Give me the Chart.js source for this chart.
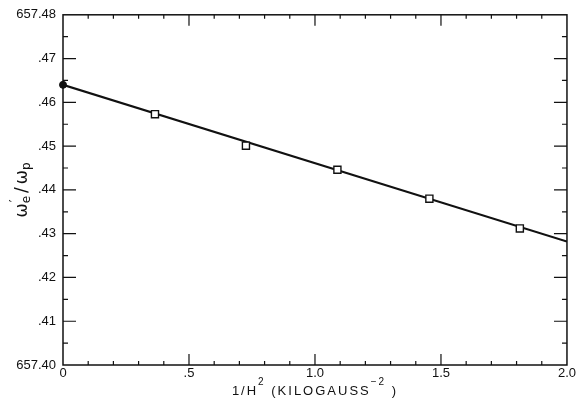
<!DOCTYPE html>
<html>
<head>
<meta charset="utf-8">
<script src="https://cdn.jsdelivr.net/npm/chart.js@4.4.1/dist/chart.umd.min.js"></script>
<style>
  html,body{margin:0;padding:0;background:#fff}
  #c{display:block}
</style>
</head>
<body>
<canvas id="c" width="577" height="406"></canvas>
<script>
// data
const fieldInvSq = [0.365, 0.726, 1.089, 1.454, 1.813];          // 1/H^2
const freqRatio  = [657.4573, 657.4501, 657.4446, 657.4380, 657.4312];
const interceptX = [0];
const interceptY = [657.4640];
const fitX = [0, 2.0];
const fitY = [657.4640, 657.4282];

// ticks
const xTickValues = [0, 0.5, 1.0, 1.5, 2.0];
const xTickLabels = ['0', '.5', '1.0', '1.5', '2.0'];
const yTickValues = [657.40, 657.41, 657.42, 657.43, 657.44, 657.45, 657.46, 657.47, 657.48];
const yTickLabels = ['657.40', '.41', '.42', '.43', '.44', '.45', '.46', '.47', '657.48'];

const INK = '#111';
const FONT = '"Liberation Sans", Arial, sans-serif';

const pts = (xs, ys) => xs.map((v, i) => ({x: v, y: ys[i]}));

// frame with inward ticks + axis titles
const frameTicks = {
  id: 'frameTicks',
  afterDraw(chart){
    const {ctx, chartArea: a, scales: {x, y}} = chart;
    ctx.save();
    ctx.strokeStyle = INK;
    ctx.lineWidth = 1.5;
    ctx.strokeRect(a.left, a.top, a.right - a.left, a.bottom - a.top);
    ctx.lineWidth = 1.2;
    ctx.beginPath();
    // x ticks every 0.1, long at 0.5
    for(let i = 1; i < 20; i++){
      const px = x.getPixelForValue(i / 10);
      const len = i % 5 === 0 ? 11 : 4;
      ctx.moveTo(px, a.bottom); ctx.lineTo(px, a.bottom - len);
      ctx.moveTo(px, a.top); ctx.lineTo(px, a.top + len);
    }
    // y ticks every 0.005, long at 0.01
    for(let i = 1; i < 16; i++){
      const py = y.getPixelForValue(657.40 + i * 0.005);
      const len = i % 2 === 0 ? 13 : 5;
      ctx.moveTo(a.left, py); ctx.lineTo(a.left + len, py);
      ctx.moveTo(a.right, py); ctx.lineTo(a.right - len, py);
    }
    ctx.stroke();

    ctx.fillStyle = INK;
    ctx.textBaseline = 'alphabetic';

    // y title: omega'_e / omega_p (rotated)
    ctx.save();
    ctx.translate(27, (a.top + a.bottom) / 2);
    ctx.rotate(-Math.PI / 2);
    const big = '17px "DejaVu Sans", sans-serif', small = '12px "DejaVu Sans", sans-serif';
    ctx.font = big; const wOm = ctx.measureText('ω').width; const wSl = ctx.measureText('/').width;
    ctx.font = small; const wE = ctx.measureText('e').width; const wP = ctx.measureText('p').width;
    const total = wOm + wE + 3 + wSl + 3 + wOm + wP;
    let cx = -total / 2;
    ctx.font = big; ctx.fillText('ω', cx, 0); cx += wOm;
    ctx.font = small; ctx.fillText('′', cx + 1, -9); ctx.fillText('e', cx, 3); cx += wE + 3;
    ctx.font = big; ctx.fillText('/', cx, 0); cx += wSl + 3;
    ctx.fillText('ω', cx, 0); cx += wOm;
    ctx.font = small; ctx.fillText('p', cx, 3);
    ctx.restore();

    // x title: 1/H^2 (KILOGAUSS^-2)
    const segs = [
      {t: '1/H', f: '13px ' + FONT, dy: 0},
      {t: '2', f: '10px ' + FONT, dy: -10},
      {t: ' (KILOGAUSS', f: '13px ' + FONT, dy: 0},
      {t: '−2', f: '10px ' + FONT, dy: -10},
      {t: ' )', f: '13px ' + FONT, dy: 0}
    ];
    ctx.letterSpacing = '2px';
    let tw = 0;
    segs.forEach(s => { ctx.font = s.f; s.w = ctx.measureText(s.t).width; tw += s.w; });
    let sx = (a.left + a.right) / 2 - tw / 2;
    segs.forEach(s => { ctx.font = s.f; ctx.fillText(s.t, sx, 395 + s.dy); sx += s.w; });
    ctx.restore();
  }
};

new Chart(document.getElementById('c'), {
  type: 'scatter',
  data: {
    datasets: [
      {data: pts(fieldInvSq, freqRatio), pointStyle: 'rect', pointRadius: 5,
       backgroundColor: '#fff', borderColor: INK, borderWidth: 1.4, order: 0},
      {data: pts(interceptX, interceptY), pointStyle: 'circle', pointRadius: 3.5,
       backgroundColor: INK, borderColor: INK, borderWidth: 1, clip: false, order: 1},
      {data: pts(fitX, fitY), showLine: true, pointRadius: 0, borderColor: INK,
       borderWidth: 2.2, fill: false, order: 2}
    ]
  },
  options: {
    responsive: false,
    animation: false,
    devicePixelRatio: 1,
    layout: {padding: {top: 13, right: 9, left: 0, bottom: 0}},
    plugins: {legend: {display: false}, tooltip: {enabled: false}},
    scales: {
      x: {
        type: 'linear', min: 0, max: 2,
        afterBuildTicks: s => { s.ticks = xTickValues.map(v => ({value: v})); },
        afterFit: s => { s.height = 41; },
        ticks: {callback: (v, i) => xTickLabels[i], color: INK, font: {family: FONT, size: 13},
                padding: 1, maxRotation: 0, autoSkip: false},
        grid: {display: false, drawTicks: false},
        border: {display: false}
      },
      y: {
        type: 'linear', min: 657.40, max: 657.48,
        afterBuildTicks: s => { s.ticks = yTickValues.map(v => ({value: v})); },
        afterFit: s => { s.width = 63; },
        ticks: {callback: (v, i) => yTickLabels[i], color: INK, font: {family: FONT, size: 13},
                padding: 7, autoSkip: false},
        grid: {display: false, drawTicks: false},
        border: {display: false}
      }
    }
  },
  plugins: [frameTicks]
});
</script>
</body>
</html>
